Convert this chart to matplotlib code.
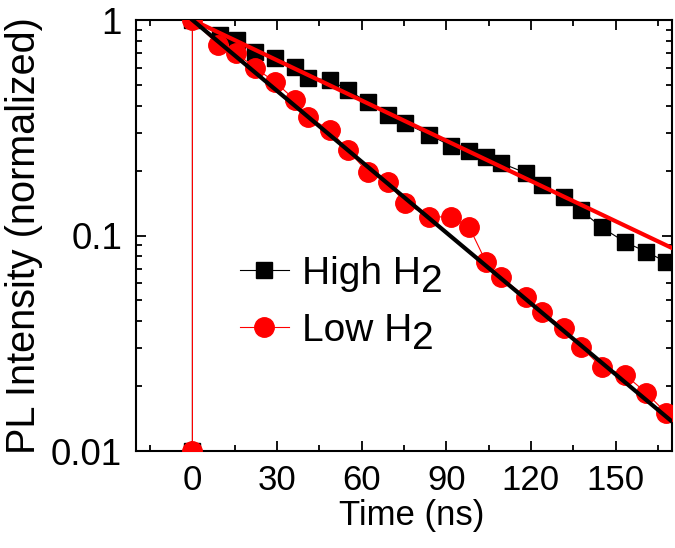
import numpy as np
import matplotlib.pyplot as plt
from matplotlib.ticker import FixedLocator, FuncFormatter, MultipleLocator, LogLocator

plt.rcParams['font.family'] = ['Liberation Sans', 'DejaVu Sans']

# High H2 decay (black squares)
t_high = [0, 0, 9.9, 15.9, 22.2, 29.3, 36.4, 40.9, 48.7, 55.1, 62.1, 69.2, 75.2, 84.0,
          91.8, 98.1, 104.1, 109.4, 118.2, 123.9, 131.7, 137.7, 145.1, 153.5, 160.9, 168.0]
pl_high = [0.01, 1.0, 0.852, 0.808, 0.710, 0.666, 0.605, 0.538, 0.527, 0.473, 0.416, 0.362,
           0.333, 0.293, 0.260, 0.247, 0.231, 0.217, 0.195, 0.172, 0.151, 0.131, 0.109,
           0.093, 0.084, 0.0753]

# Low H2 decay (red circles)
t_low = [0, 0, 9.2, 15.5, 22.2, 29.3, 36.4, 40.9, 48.7, 55.1, 62.1, 69.2, 75.2, 84.0,
         91.8, 98.1, 104.1, 109.4, 118.2, 123.9, 131.7, 137.7, 145.1, 153.5, 160.9, 168.0]
pl_low = [0.01, 1.0, 0.766, 0.703, 0.599, 0.516, 0.425, 0.355, 0.309, 0.249, 0.197, 0.177,
          0.142, 0.122, 0.122, 0.1095, 0.0753, 0.0642, 0.0518, 0.0442, 0.0372, 0.0304,
          0.0245, 0.0225, 0.0186, 0.0150]

# single-exponential fits (end points on log scale)
fit_t = [0, 170]
fit_high = [1.0, 0.0875]
fit_low = [1.0, 0.0137]

fig = plt.figure(figsize=(6.75, 5.48), dpi=100)
ax = fig.add_axes([0.2015, 0.177, 0.794, 0.7865])

ax.plot(t_high, pl_high, color='black', lw=0.8, marker='s', ms=12, mec='black',
        mfc='black', label='High H', zorder=2)
ax.plot(t_low, pl_low, color='red', lw=0.8, marker='o', ms=14, mec='red',
        mfc='red', label='Low H', zorder=3)
ax.plot(fit_t, fit_high, color='red', lw=3, zorder=4)
ax.plot(fit_t, fit_low, color='black', lw=3, zorder=5)

ax.set_yscale('log')
ax.set_xlim(-20, 170)
ax.set_ylim(0.01, 1)

ax.xaxis.set_major_locator(FixedLocator([0, 30, 60, 90, 120, 150]))
ax.xaxis.set_minor_locator(MultipleLocator(15))
ax.yaxis.set_major_locator(FixedLocator([0.01, 0.1, 1]))
ax.yaxis.set_minor_locator(LogLocator(base=10, subs=np.arange(2, 10)))
ax.yaxis.set_major_formatter(FuncFormatter(lambda v, p: '%g' % v))
ax.yaxis.set_minor_formatter(FuncFormatter(lambda v, p: ''))

ax.tick_params(which='both', direction='in', top=True, right=True, width=1.3)
ax.tick_params(which='major', length=7)
ax.tick_params(which='minor', length=4)
ax.tick_params(axis='x', labelsize=25, pad=9)
ax.tick_params(axis='y', labelsize=26.5, pad=10)
for s in ax.spines.values():
    s.set_linewidth(1.5)

ax.set_xlabel('Time (ns)', fontsize=25)
ax.xaxis.set_label_coords(0.515, -0.112)
ax.set_ylabel('PL Intensity (normalized)', fontsize=28.5)
ax.yaxis.set_label_coords(-0.174, 0.5)

leg = ax.legend(loc='center left', bbox_to_anchor=(0.194, 0.345), frameon=False,
                fontsize=28, handlelength=1.26, handletextpad=0.33, labelspacing=0.55,
                borderpad=0, borderaxespad=0)

# full-size lowered "2" after each legend label (H2)
fig.canvas.draw()
for txt in leg.get_texts():
    bb = txt.get_window_extent()
    fig.text(bb.x1 / fig.bbox.width, (bb.y0 - 8) / fig.bbox.height, '2',
             fontsize=28, ha='left', va='bottom')

fig.savefig('out.png', dpi=100)
